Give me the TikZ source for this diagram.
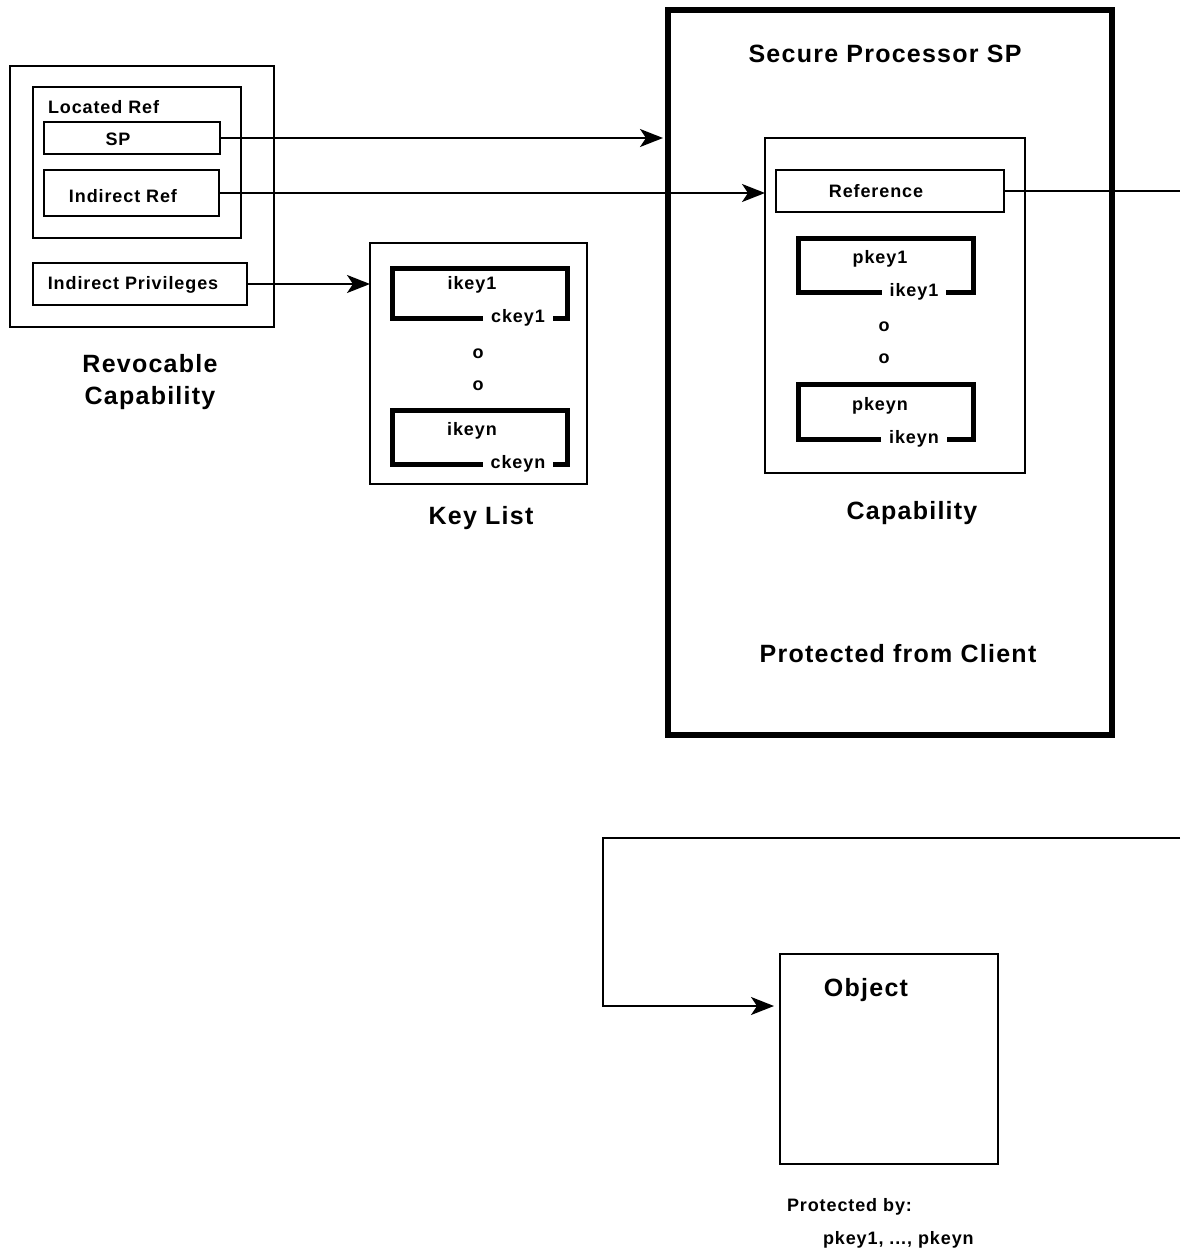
\documentclass[tikz,border=0pt]{standalone}
\usepackage{fontspec}
\setmainfont{Liberation Sans}[LetterSpace=5]
\usetikzlibrary{positioning,fit,arrows.meta}

\begin{document}
\begin{tikzpicture}[
    x=0.5pt, y=-0.5pt,
    every node/.style={align=center, outer sep=0pt},
    box/.style={draw, line width=1pt, inner sep=0pt, fit={#1}},
    frame/.style={draw, line width=3pt, inner sep=0pt, fit={#1}},
    keypair/.style={inner sep=0pt, fit={#1}},
    bracket/.style={line width=2.5pt},
    small/.style={font=\fontsize{9}{11}\selectfont\bfseries, inner sep=1pt},
    title/.style={font=\fontsize{12.5}{16}\selectfont\bfseries},
    onbar/.style={small, inner xsep=4pt, inner ysep=0pt},
    link/.style={line width=1pt},
    arrow/.style={link, -{Stealth[length=11.5pt, width=9pt, inset=3pt]}}
]
\useasboundingbox (0,0) rectangle (1180,1252);

% Revocable capability
\node[box={(10,66) (274,327)}] (revcap) {};
\node[box={(33,87) (241,238)}] (located) {};
\node[small, anchor=west] (locatedlbl) at (46,107) {Located Ref};
\node[box={(44,122) (220,154)}] (sp) {};
\node[small] (splbl) at (118,139) {SP};
\node[box={(44,170) (219,216)}] (indref) {};
\node[small] (indreflbl) at (123,196) {Indirect Ref};
\node[box={(33,263) (247,305)}] (indpriv) {};
\node[small] (indprivlbl) at (133,285) {Indirect Privileges};
\node[title] (revcaplbl) at (150,382) {Revocable\\Capability};

% Key list
\node[box={(370,243) (587,484)}] (keylist) {};
\node[keypair={(392,268) (567,318)}] (kp1) {};
\node[small] (ikey1) at (472,285) {ikey1};
\node[onbar] (ckey1) at (518,318) {ckey1};
\node[small] (dot1) at (478,354) {o};
\node[small] (dot2) at (478,386) {o};
\node[keypair={(392,410) (567,464)}] (kpn) {};
\node[small] (ikeyn) at (472,431) {ikeyn};
\node[onbar] (ckeyn) at (518,464) {ckeyn};
\node[title] (keylistlbl) at (481,518) {Key List};

% Secure processor
\node[frame={(668,10) (1112,735)}] (secproc) {};
\node[title] (secproclbl) at (885,54) {Secure Processor SP};
\node[box={(765,138) (1025,473)}] (cap) {};
\node[box={(776,170) (1004,212)}] (reference) {};
\node[small] (referencelbl) at (876,191) {Reference};
\node[keypair={(798,238) (973,292)}] (pk1) {};
\node[small] (pkey1) at (880,259) {pkey1};
\node[onbar] (pik1) at (914,292) {ikey1};
\node[small] (dot3) at (884,327) {o};
\node[small] (dot4) at (884,359) {o};
\node[keypair={(798,384) (973,439)}] (pkn) {};
\node[small] (pkeyn) at (880,406) {pkeyn};
\node[onbar] (pikn) at (914,439) {ikeyn};
\node[title] (caplbl) at (912,513) {Capability};
\node[title] (protlbl) at (898,654) {Protected from Client};

% Object
\node[box={(780,954) (998,1164)}] (object) {};
\node[title] (objectlbl) at (866,990) {Object};
\node[small, anchor=west] (protby) at (785,1207) {Protected by:};
\node[small, anchor=west] (protkeys) at (821,1240) {pkey1, ..., pkeyn};

% Brackets
\foreach \kp/\lb in {kp1/ckey1, kpn/ckeyn, pk1/pik1, pkn/pikn}
    \draw[bracket] (\lb.west) -- (\kp.south west) -- (\kp.north west)
        -- (\kp.north east) -- (\kp.south east) -- (\lb.east);

% Connectors
\coordinate (outR) at (1180,191);
\coordinate (inR) at (1180,838);
\coordinate (turn) at (603,1006);
\draw[arrow, shorten >=2.5pt] (sp.east) -- (sp.east -| secproc.west);
\draw[arrow] (indref.east) -- (indref.east -| cap.west);
\draw[arrow] (indpriv.east) -- (indpriv.east -| keylist.west);
\draw[link] (reference.east) -- (outR);
\draw[arrow, shorten >=3pt] (inR) -| (turn) -- (turn -| object.west);

\end{tikzpicture}
\end{document}
